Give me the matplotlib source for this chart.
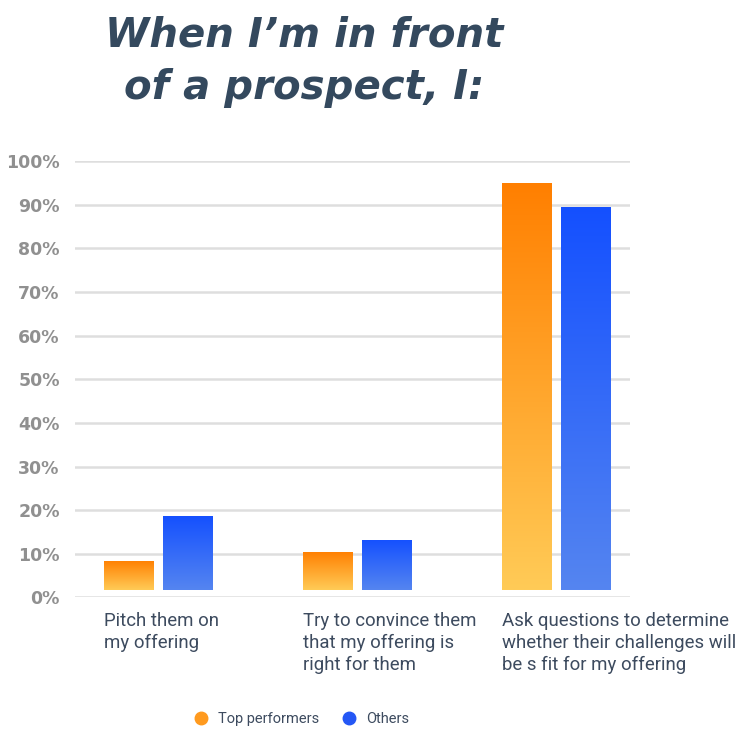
import numpy as np
import matplotlib.pyplot as plt
from matplotlib.colors import LinearSegmentedColormap
from matplotlib.lines import Line2D

# Data
categories = ["Pitch them on\nmy offering",
              "Try to convince them\nthat my offering is\nright for them",
              "Ask questions to determine\nwhether their challenges will\nbe s fit for my offering"]
top_performers = [8.4, 10.5, 95.0]
others = [18.7, 13.2, 89.5]
series_names = ["Top performers", "Others"]
yticks = [0, 10, 20, 30, 40, 50, 60, 70, 80, 90, 100]

BASE = 1.7          # bars float slightly above the 0% line in the original
BAR_W = 0.246
OFFSET = 0.148

orange_cmap = LinearSegmentedColormap.from_list("org", ["#FFCB57", "#FF7F00"])
blue_cmap = LinearSegmentedColormap.from_list("blu", ["#5585F0", "#1450FF"])

fig = plt.figure(figsize=(7.5, 7.39), dpi=100)
ax = fig.add_axes([0.1, 0.1915, 0.74, 0.5907])

x = np.arange(len(categories))
grad = np.linspace(0, 1, 256).reshape(-1, 1)

for vals, off, cmap in [(top_performers, -OFFSET, orange_cmap), (others, OFFSET, blue_cmap)]:
    bars = ax.bar(x + off, np.array(vals) - BASE, BAR_W, bottom=BASE,
                  color="none", edgecolor="none", zorder=3)
    for b in bars:
        x0, y0 = b.get_x(), b.get_y()
        x1, y1 = x0 + b.get_width(), y0 + b.get_height()
        im = ax.imshow(grad, cmap=cmap, origin="lower", aspect="auto",
                       extent=[x0, x1, y0, y1], zorder=3)
        im.set_clip_path(b)

ax.set_xlim(-0.414, 2.37)
ax.set_ylim(0, 100)
ax.set_yticks(yticks)
ax.set_yticklabels([f"{t}%" for t in yticks])
ax.set_xticks([])
ax.tick_params(axis="y", length=0, pad=11, labelsize=12.5, labelcolor="#909090")
for lab in ax.get_yticklabels():
    lab.set_fontweight("bold")
ax.grid(axis="y", color="#dedede", linewidth=1.8, zorder=0)
for s in ax.spines.values():
    s.set_visible(False)

# category labels, left aligned under the first bar of each group
for xi, cat in zip(x, categories):
    ax.text(xi - OFFSET - BAR_W / 2, -0.034, cat, transform=ax.get_xaxis_transform(),
            ha="left", va="top", fontsize=13.4, family="Roboto", color="#3d4b5f",
            linespacing=1.28)

# title
fig.text(0.405, 0.917, "When I\u2019m in front\nof a prospect, I:", ha="center", va="center",
         fontsize=29, fontweight="bold", fontstyle="italic", color="#34495E",
         linespacing=1.4)

handles = [Line2D([], [], marker="o", linestyle="none", markersize=9, color="#FF9A1E"),
           Line2D([], [], marker="o", linestyle="none", markersize=9, color="#2457F5")]
fig.legend(handles, series_names, loc="center", bbox_to_anchor=(0.397, 0.027), ncol=2,
           frameon=False, prop={"family": "Roboto", "size": 10.5}, labelcolor="#3d4b5f",
           handletextpad=0.15, columnspacing=1.1)

fig.savefig("out.png", dpi=100, facecolor="white")
